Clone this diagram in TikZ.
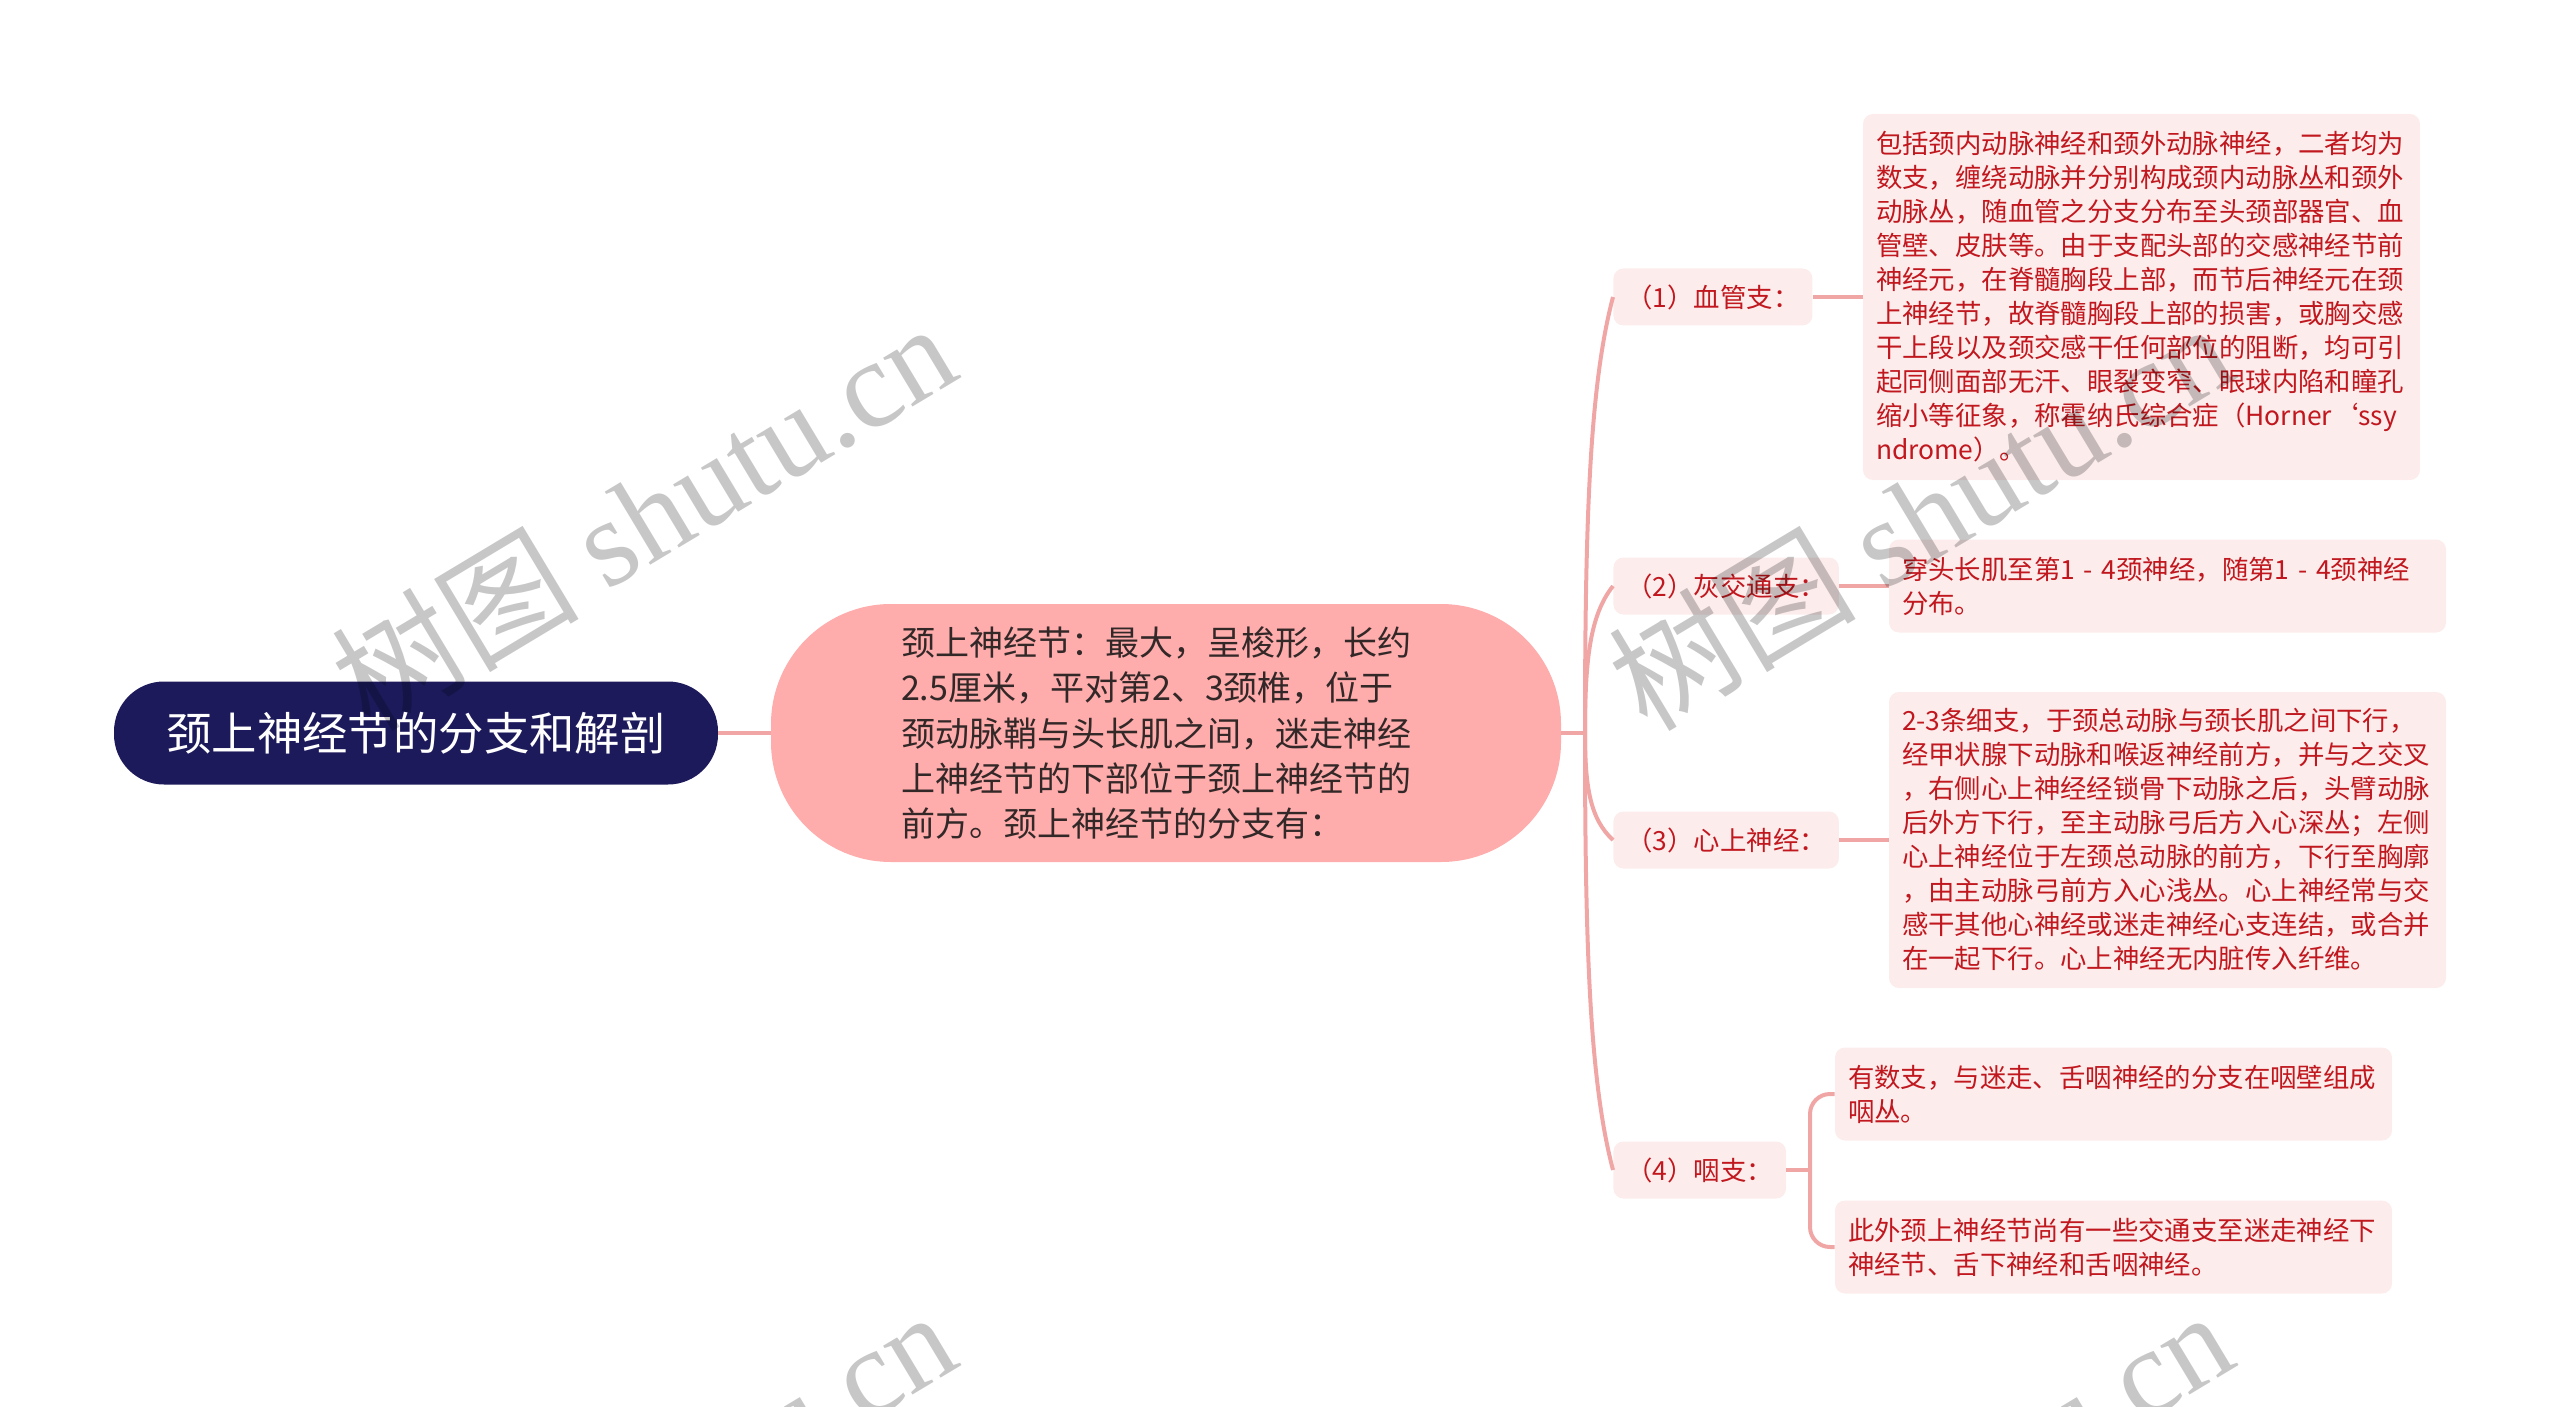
\documentclass[tikz,border=0pt]{standalone}
\usepackage{fontspec}
\setmainfont{Noto Sans CJK SC}
\newfontfamily\cjk{Noto Sans CJK SC}
\newfontfamily\wmserif{Liberation Serif}
\definecolor{rootfill}{RGB}{28,26,91}
\definecolor{midfill}{RGB}{255,172,172}
\definecolor{boxfill}{RGB}{253,236,236}
\definecolor{redtext}{RGB}{192,24,30}
\definecolor{linec}{RGB}{241,166,166}
\definecolor{midtext}{RGB}{51,40,40}
\begin{document}
\begin{tikzpicture}[x=0.5pt,y=-0.5pt,
 conn/.style={draw=linec,line width=2pt},
 rootbox/.style={fill=rootfill, rounded corners=25pt, minimum width=302pt, minimum height=51.5pt, text=white, font=\cjk\fontsize{22.7pt}{28pt}\selectfont, inner sep=0pt},
 midbox/.style={fill=midfill, rounded corners=60pt, minimum width=395pt, minimum height=129pt, text=midtext, text width=265pt, align=left, font=\cjk\fontsize{17pt}{22.7pt}\selectfont, inner sep=0pt},
 lvbox/.style={fill=boxfill, rounded corners=5pt, minimum height=28.5pt, inner xsep=6.5pt, inner ysep=0pt, text=redtext, font=\cjk\fontsize{13.2pt}{17pt}\selectfont, anchor=west},
 detbox/.style={fill=boxfill, rounded corners=5pt, text width=265.5pt, inner xsep=6.5pt, inner ysep=0pt, align=left, text=redtext, font=\cjk\fontsize{13.2pt}{17pt}\selectfont},
 wm/.style={text=black, text opacity=0.22, rotate=31, font=\fontsize{62pt}{62pt}\selectfont, inner sep=0pt}
]
\useasboundingbox (0,0) rectangle (2560,1407);

\node[rootbox] (root) at (416,733) {颈上神经节的分支和解剖};
\node[midbox] (mid) at (1166,733) {颈上神经节：最大，呈梭形，长约\\2.5厘米，平对第2、3颈椎，位于\\颈动脉鞘与头长肌之间，迷走神经\\上神经节的下部位于颈上神经节的\\前方。颈上神经节的分支有：};

\node[lvbox] (b1) at (1613,297) {（1）血管支：};
\node[lvbox] (b2) at (1613,586) {（2）灰交通支：};
\node[lvbox] (b3) at (1613,840) {（3）心上神经：};
\node[lvbox] (b4) at (1613,1170) {（4）咽支：};

\node[detbox, minimum height=183pt] (d1) at (2141.5,297) {包括颈内动脉神经和颈外动脉神经，二者均为\\数支，缠绕动脉并分别构成颈内动脉丛和颈外\\动脉丛，随血管之分支分布至头颈部器官、血\\管壁、皮肤等。由于支配头部的交感神经节前\\神经元，在脊髓胸段上部，而节后神经元在颈\\上神经节，故脊髓胸段上部的损害，或胸交感\\干上段以及颈交感干任何部位的阻断，均可引\\起同侧面部无汗、眼裂变窄、眼球内陷和瞳孔\\缩小等征象，称霍纳氏综合症（Horner‘ssy\\ndrome）。};
\node[detbox, minimum height=46.5pt] (d2) at (2167.5,586) {穿头长肌至第1 - 4颈神经，随第1 - 4颈神经\\分布。};
\node[detbox, minimum height=148pt] (d3) at (2167.5,840) {2-3条细支，于颈总动脉与颈长肌之间下行，\\经甲状腺下动脉和喉返神经前方，并与之交叉\\，右侧心上神经经锁骨下动脉之后，头臂动脉\\后外方下行，至主动脉弓后方入心深丛；左侧\\心上神经位于左颈总动脉的前方，下行至胸廓\\，由主动脉弓前方入心浅丛。心上神经常与交\\感干其他心神经或迷走神经心支连结，或合并\\在一起下行。心上神经无内脏传入纤维。};
\node[detbox, minimum height=46.5pt] (d4a) at (2113.5,1094) {有数支，与迷走、舌咽神经的分支在咽壁组成\\咽丛。};
\node[detbox, minimum height=46.5pt] (d4b) at (2113.5,1247) {此外颈上神经节尚有一些交通支至迷走神经下\\神经节、舌下神经和舌咽神经。};

\coordinate (sp) at (1585,733);
\coordinate (s4) at (1810,1170);
\draw[conn] (root.east) -- (mid.west);
\draw[conn] (mid.east) -- (sp);
\draw[conn] (sp) .. controls (1585,515) and (1590,384) .. (b1.west);
\draw[conn] (sp) .. controls (1585,659.5) and (1590,615) .. (b2.west);
\draw[conn] (sp) .. controls (1585,786.5) and (1590,819) .. (b3.west);
\draw[conn] (sp) .. controls (1585,951.5) and (1590,1083) .. (b4.west);
\draw[conn] (b1.east) -- (d1.west);
\draw[conn] (b2.east) -- (d2.west);
\draw[conn] (b3.east) -- (d3.west);
\draw[conn] (b4.east) -- (s4);
\draw[conn, rounded corners=10pt] (d4a.west) -| (s4) |- (d4b.west);

\begin{scope}
\clip (0,0) rectangle (2560,1407);
\node[wm] (w1) at (643,515) {{\cjk 树图} {\wmserif shutu.cn}};
\node[wm] (w2) at (1920,515) {{\cjk 树图} {\wmserif shutu.cn}};
\node[wm] (w3) at (643,1503) {{\cjk 树图} {\wmserif shutu.cn}};
\node[wm] (w4) at (1920,1503) {{\cjk 树图} {\wmserif shutu.cn}};
\end{scope}
\end{tikzpicture}
\end{document}
